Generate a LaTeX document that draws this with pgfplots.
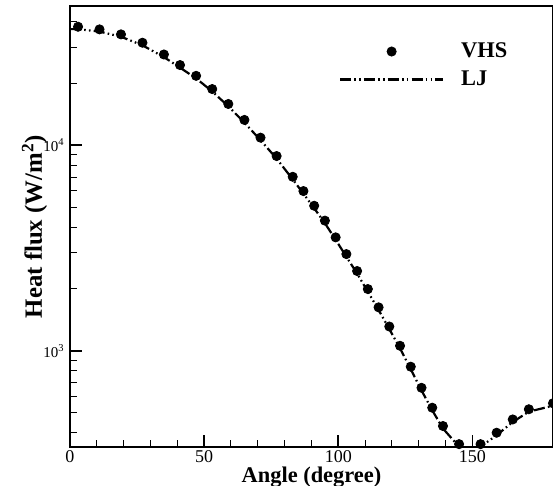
\documentclass[border=0pt]{standalone}
\usepackage{fontspec}
\setmainfont{Liberation Serif}
\usepackage{pgfplots}
\pgfplotsset{compat=1.18}
\pgfplotsset{
 vhs legend/.style={legend image code/.code={\draw[mark repeat=2,mark phase=2,##1] plot coordinates {(0pt,0pt) (25.75pt,0pt) (51.5pt,0pt)};}},
 lj legend/.style={legend image code/.code={\draw[##1] (0pt,0pt) -- (51.5pt,0pt);}},
}
\begin{document}
\begin{tikzpicture}
\begin{axis}[
 at={(0,0)}, anchor=south west,
 scale only axis, width=241.5pt, height=220.5pt,
 xmin=0, xmax=180, ymode=log, ymin=340, ymax=47700,
 xtick={0,50,100,150}, minor x tick num=4,
 ytick={1000,10000}, yticklabels={10\textsuperscript{3},10\textsuperscript{4}},
 minor ytick={400,500,600,700,800,900,2000,3000,4000,5000,6000,7000,8000,9000,20000,30000,40000},
 tick align=inside, xtick pos=bottom, ytick pos=left,
 major tick length=6pt, minor tick length=3.5pt,
 every major tick/.style={line width=0.9pt, black},
 every minor tick/.style={line width=0.5pt, black},
 axis line style={line width=1.4pt},
 /pgf/number format/assume math mode=true,
 xticklabel style={font=\fontsize{9}{9}\selectfont, inner sep=1.8pt},
 yticklabel style={font=\fontsize{7.5}{8}\selectfont, inner sep=2.5pt},
 xlabel={Angle (degree)}, ylabel={Heat flux (W/m\textsuperscript{2})},
 x label style={at={(axis description cs:0.5,-0.0794)}, anchor=base, font=\fontsize{11.2}{12}\selectfont\bfseries},
 y label style={at={(axis description cs:-0.058,0.5)}, anchor=base, font=\fontsize{12.4}{13}\selectfont\bfseries},
 legend style={draw=none, fill=none, at={(axis description cs:0.557,0.865)}, anchor=west,
   font=\fontsize{11.2}{12}\selectfont\bfseries, inner sep=0pt, outer sep=0pt,
   nodes={inner sep=0pt, text height=8pt, text depth=2pt},
   row sep=4pt, column sep=8.5pt},
 legend cell align=left,
]
\addplot[only marks, mark=*, mark size=2.3pt, black, vhs legend]
 table {
x y
3 37800
11 36700
19 34700
27 31600
35 27700
41 24600
47 21800
53 18800
59 15900
65 13300
71 10900
77 8870
83 7030
87 5990
91 5080
95 4300
99 3565
103 2955
107 2444
111 1997
115 1627
119 1312
123 1057
127 836
131 660
135 528
139 430
145 351
153 351
159 399
165 463
171 519
180 555
};
\addlegendentry{VHS}
\addplot[black, line width=1.1pt, dash pattern=on 5.5pt off 1.6pt on 0.8pt off 1.6pt on 0.8pt off 1.6pt, lj legend]
 table {
x y
0 36800
3 36800
11 35800
19 33800
27 30700
35 26900
41 23900
47 21200
53 18300
59 15500
65 12900
71 10600
77 8620
83 6830
87 5820
91 4940
95 4180
99 3470
103 2870
107 2375
111 1940
115 1580
119 1275
123 1027
127 812
131 641
135 513
139 418
145 341
149 300
153 341
159 388
165 450
171 505
180 540
};
\addlegendentry{LJ}
\end{axis}
\pgfresetboundingbox
\path[use as bounding box] (-35pt,-19.5pt) rectangle (241.5pt,223.5pt);
\end{tikzpicture}
\end{document}
